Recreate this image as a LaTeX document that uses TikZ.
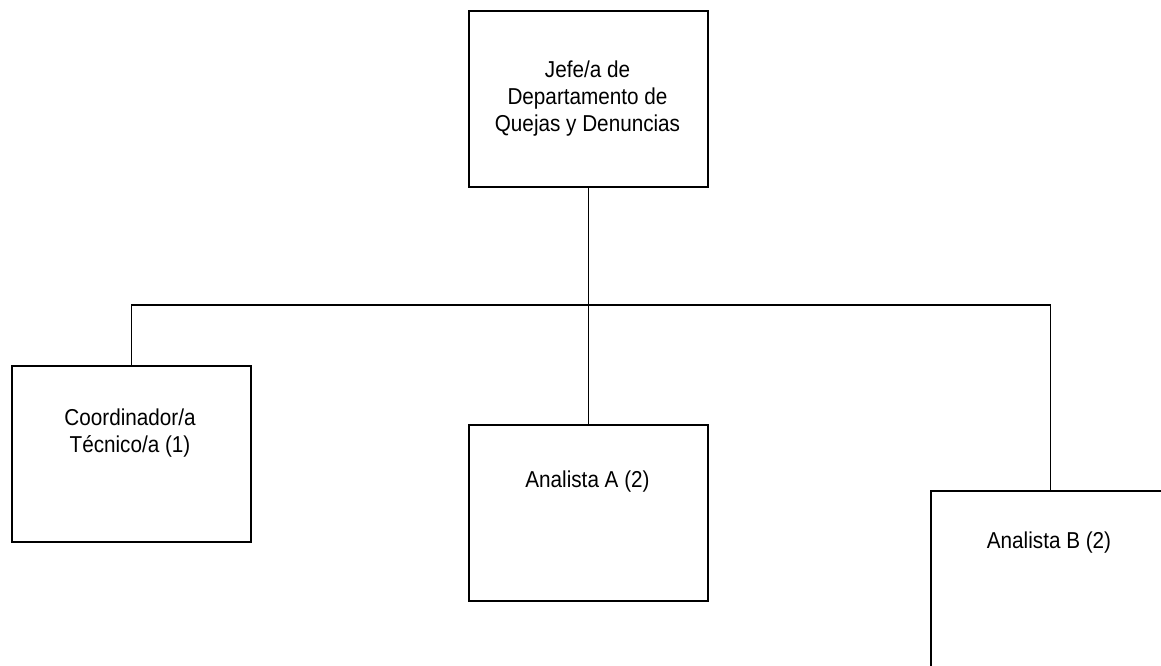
\documentclass[tikz,border=0pt]{standalone}
\usepackage{fontspec}
\setmainfont[FakeStretch=0.9]{Liberation Sans}
\begin{document}
\begin{tikzpicture}[x=1pt,y=-1pt,
  orgbox/.style={draw=black,line width=2pt,minimum width=239pt,minimum height=176pt,inner sep=0pt,anchor=north west},
  orgtext/.style={font=\fontsize{23}{27}\selectfont,align=center,inner sep=0pt},
  link/.style={draw=black,line width=1.8pt}]
\useasboundingbox (0,0) rectangle (1161,665);
\node[orgbox] (top) at (468,9.5) {};
\node[orgbox] (left) at (11,364.5) {};
\node[orgbox] (mid) at (468,424) {};
\node[orgbox] (right) at (930,489.5) {};
\node[orgtext] (ttop) at (587.5,98.5) {Jefe/a de\\Departamento de\\Quejas y Denuncias};
\node[orgtext] (tleft) at (130,433.5) {Coordinador/a\\Técnico/a (1)};
\node[orgtext] (tmid) at (587.5,482) {Analista A (2)};
\node[orgtext] (tright) at (1049,543) {Analista B (2)};
\coordinate (bus) at (587.5,305);
\draw[link] (top.south) -- (mid.north);
\draw[link] (left.north) |- (bus) -| (right.north);
\end{tikzpicture}
\end{document}
